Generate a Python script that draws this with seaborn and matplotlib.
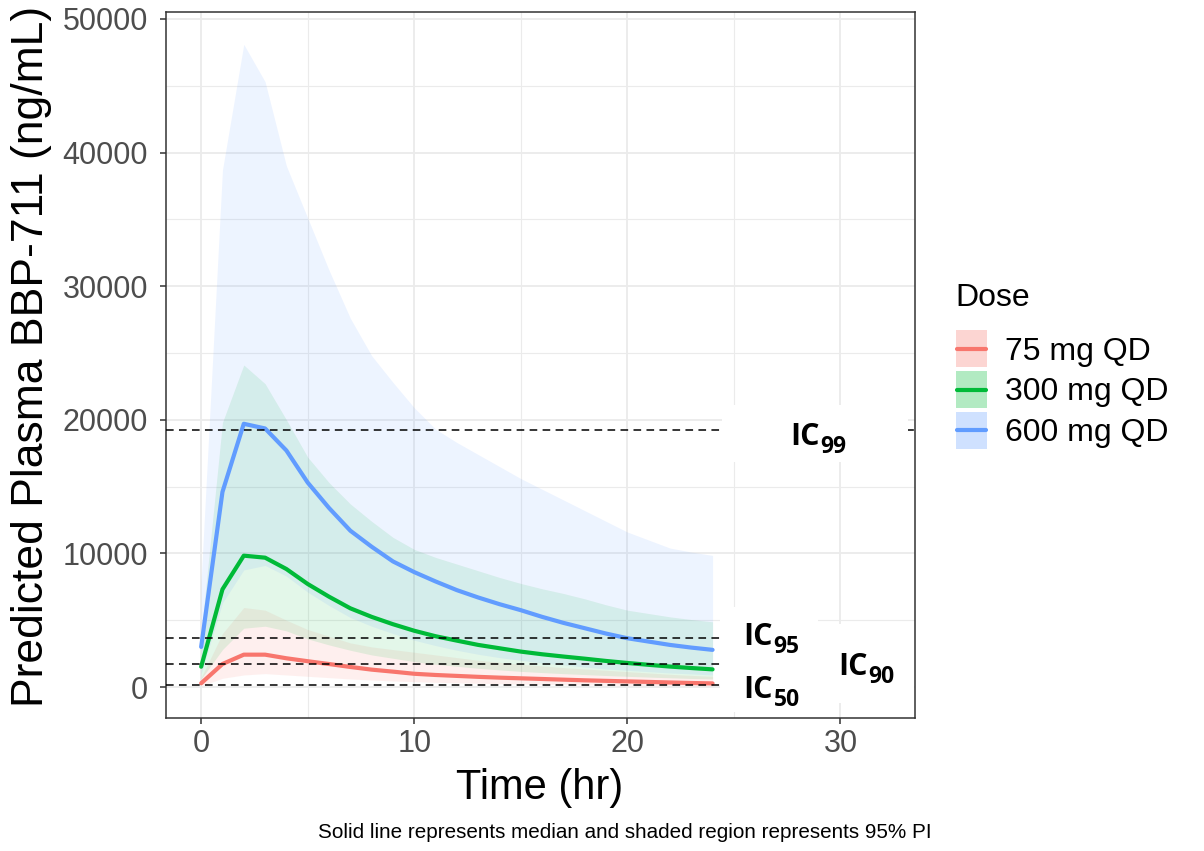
import numpy as np
import pandas as pd
import matplotlib
matplotlib.use("Agg")
import matplotlib.pyplot as plt
import seaborn as sns
from matplotlib.patches import Rectangle
from matplotlib.lines import Line2D
from matplotlib.legend_handler import HandlerBase
from matplotlib.transforms import offset_copy

# ---------------- data ----------------
time_hr = list(range(0, 25))
doses = ["75 mg QD", "300 mg QD", "600 mg QD"]

median_75 = [280, 1720, 2420, 2420, 2150, 1930, 1720, 1500, 1300, 1150, 990, 900, 830, 760,
             700, 650, 600, 550, 500, 460, 420, 380, 340, 300, 270]
lower_75 = [80, 650, 900, 1000, 900, 800, 700, 600, 520, 450, 400, 350, 310, 280,
            250, 220, 200, 180, 160, 145, 130, 120, 110, 100, 90]
upper_75 = [700, 4000, 5950, 5750, 5000, 4300, 3800, 3300, 3000, 2800, 2600, 2400, 2200, 2000,
            1850, 1700, 1580, 1450, 1350, 1250, 1150, 1050, 950, 870, 800]

median_300 = [1520, 7310, 9830, 9680, 8830, 7710, 6760, 5890, 5250, 4700, 4210, 3800, 3470, 3150,
              2900, 2650, 2450, 2280, 2120, 1950, 1800, 1660, 1530, 1420, 1320]
lower_300 = [600, 2800, 4400, 4550, 4200, 3600, 3150, 2750, 2400, 2150, 1900, 1700, 1550, 1400,
             1280, 1170, 1080, 1000, 930, 860, 800, 740, 690, 640, 600]
upper_300 = [4000, 19800, 24100, 22700, 20000, 17200, 15300, 13700, 12400, 11200, 10300, 9700, 9200,
             8700, 8200, 7750, 7350, 7000, 6600, 6150, 5750, 5500, 5250, 5050, 4880]

median_600 = [3000, 14600, 19700, 19350, 17700, 15300, 13400, 11700, 10500, 9400, 8600, 7900, 7250,
              6700, 6200, 5750, 5250, 4800, 4400, 4000, 3650, 3400, 3150, 2950, 2780]
lower_600 = [1000, 6300, 8760, 9100, 8300, 7100, 6100, 5200, 4550, 4000, 3500, 3100, 2750, 2450,
             2200, 2000, 1800, 1650, 1500, 1350, 1250, 1150, 1050, 980, 900]
upper_600 = [8000, 38700, 48100, 45300, 39000, 35100, 31200, 27600, 24800, 22800, 20900, 19300, 18300,
             17400, 16500, 15600, 14800, 14000, 13200, 12400, 11600, 11000, 10400, 10100, 9850]

ic_levels = ["50", "90", "95", "99"]
ic_values = [150, 1700, 3650, 19200]

colors = ["#F8766D", "#00BA38", "#619CFF"]

medians = [median_75, median_300, median_600]
lowers = [lower_75, lower_300, lower_600]
uppers = [upper_75, upper_300, upper_600]

rows = []
for d, m, lo, up in zip(doses, medians, lowers, uppers):
    for t, a, b, c in zip(time_hr, m, lo, up):
        rows.append({"time": t, "dose": d, "median": a, "lower": b, "upper": c})
df = pd.DataFrame(rows)

# ---------------- style ----------------
sns.set_style("white")
plt.rcParams["font.family"] = ["Liberation Sans", "DejaVu Sans"]
plt.rcParams["text.color"] = "black"
plt.rcParams["axes.labelcolor"] = "black"

fig = plt.figure(figsize=(12.04, 8.51), dpi=100)
ax = fig.add_axes([166 / 1204, 1 - 718 / 851, (915 - 166) / 1204, (718 - 12) / 851])

# grid (theme_bw-like)
for xv in [5, 15, 25]:
    ax.axvline(xv, color="#EBEBEB", lw=0.8, zorder=0)
for yv in [5000, 15000, 25000, 35000, 45000]:
    ax.axhline(yv, color="#EBEBEB", lw=0.8, zorder=0)
for xv in [0, 10, 20, 30]:
    ax.axvline(xv, color="#EBEBEB", lw=1.3, zorder=0)
for yv in [0, 10000, 20000, 30000, 40000, 50000]:
    ax.axhline(yv, color="#EBEBEB", lw=1.3, zorder=0)

# 95% PI bands
for d, c in zip(doses, colors):
    sub = df[df["dose"] == d]
    ax.fill_between(sub["time"], sub["lower"], sub["upper"], color=c, alpha=0.11,
                    linewidth=0, zorder=1)

# median lines
sns.lineplot(data=df, x="time", y="median", hue="dose", hue_order=doses,
             palette=colors, linewidth=3, ax=ax, legend=False, zorder=3)

# IC reference lines
for v in ic_values:
    ax.axhline(v, color="black", lw=1.1, ls=(0, (5, 3.5)), zorder=4)

# white label boxes
box_specs = [(24.37, -1870, 4.6, 7860), (28.83, -1200, 4.6, 5910), (24.46, 16840, 8.73, 4260)]
for x0, y0, w, h in box_specs:
    ax.add_patch(Rectangle((x0, y0), w, h, facecolor="white", edgecolor="none", zorder=5))

label_pos = [(25.46, -820), (29.92, 900), (25.46, 3140), (27.65, 18110)]
fig.canvas.draw()
renderer = fig.canvas.get_renderer()
for lvl, (x, y) in zip(ic_levels, label_pos):
    t = ax.text(x, y, "IC", fontsize=22, fontweight="bold", family="Open Sans",
                ha="left", va="baseline", zorder=6)
    bb = t.get_window_extent(renderer=renderer)
    w_pts = bb.width * 72 / fig.dpi
    tr = offset_copy(ax.transData, fig=fig, x=w_pts + 0.3, y=-6, units="points")
    ax.text(x, y, lvl, fontsize=16.5, fontweight="bold", family="Open Sans",
            ha="left", va="baseline", transform=tr, zorder=6)

ax.set_xlim(-1.65, 33.5)
ax.set_ylim(-2320, 50520)
ax.set_xticks([0, 10, 20, 30])
ax.set_yticks([0, 10000, 20000, 30000, 40000, 50000])
ax.set_yticklabels(["0", "10000", "20000", "30000", "40000", "50000"])
ax.tick_params(axis="both", labelsize=22, labelcolor="#4D4D4D", color="#333333",
               length=4, width=1.1, direction="out", bottom=True, left=True)
ax.tick_params(axis="y", pad=9)
ax.tick_params(axis="x", pad=4)
for s in ax.spines.values():
    s.set_color("#333333")
    s.set_linewidth(1.1)

ax.set_xlabel("Time (hr)", fontsize=30)
ax.set_ylabel("Predicted Plasma BBP-711 (ng/mL)", fontsize=32)
ax.xaxis.set_label_coords((540 - 166) / 749, (718 - 768) / 706)
ax.yaxis.set_label_coords((52 - 166) / 749, (718 - 356) / 706)


# legend keys: translucent square + median line (ggplot style)
class KeyHandler(HandlerBase):
    def create_artists(self, legend, orig_handle, xdescent, ydescent, width, height,
                       fontsize, trans):
        kw, kh = 22.3, 26.6  # points
        cx = -xdescent + width / 2
        cy = -ydescent + (height + ydescent) / 2 - ydescent / 2
        rect = Rectangle((cx - kw / 2, cy - kh / 2), kw, kh, facecolor=orig_handle,
                         alpha=0.3, edgecolor="none", transform=trans)
        line = Line2D([cx - kw / 2 + 1, cx + kw / 2 - 1], [cy, cy], color=orig_handle,
                      lw=3, transform=trans)
        return [rect, line]


leg = fig.legend(colors, doses, handler_map={str: KeyHandler()},
                 loc="upper left", bbox_to_anchor=(956 / 1204, 1 - 333 / 851),
                 frameon=False, fontsize=23,
                 handlelength=0.97, handleheight=1.16, labelspacing=0.217, handletextpad=0.55,
                 borderpad=0.0, borderaxespad=0.0)

fig.text(955 / 1204, 1 - 298 / 851, "Dose", fontsize=23, ha="left", va="center")

fig.text(932 / 1204, 1 - 832 / 851,
         "Solid line represents median and shaded region represents 95% PI",
         fontsize=14.9, ha="right", va="center")

fig.savefig("out.png", dpi=100)
